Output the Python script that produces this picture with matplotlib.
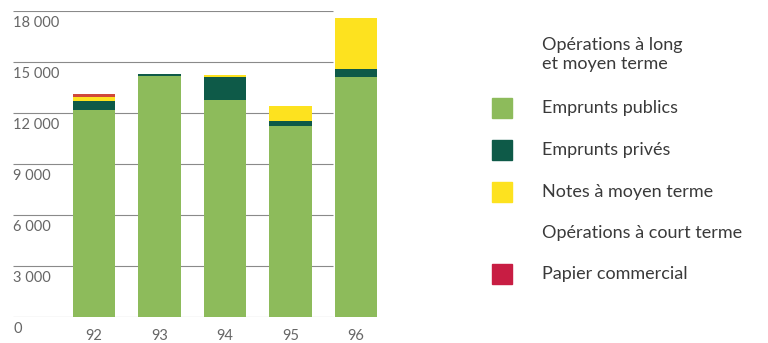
import matplotlib
matplotlib.use('Agg')
from matplotlib import pyplot as plt
from matplotlib.patches import Rectangle
import numpy as np

plt.rcParams['font.family'] = ['Lato', 'DejaVu Sans']

years = ['92', '93', '94', '95', '96']
publics = [12200, 14180, 12760, 11240, 14100]
prives = [480, 100, 1340, 310, 470]
notes = [280, 0, 120, 860, 3000]
papier = [150, 0, 0, 0, 0]

yticks = [0, 3000, 6000, 9000, 12000, 15000, 18000]
ylabels = ['0', '3 000', '6 000', '9 000', '12 000', '15 000', '18 000']

c_pub = '#8dbb5b'
c_priv = '#0e5a48'
c_notes = '#fde21f'
c_pap = '#d0483a'
c_pap_leg = '#c81d43'
txt = '#666666'

fig = plt.figure(figsize=(7.68, 3.43), dpi=100)
W, H = 768, 343
ax = fig.add_axes([13 / W, 26 / H, (382 - 13) / W, (317 - 11) / H])

x = np.arange(len(years))
w = 0.656
xmin = (13 - 94) / 65.5
xgrid_end = (333 - 94) / 65.5
ax.set_xlim(xmin, (382 - 94) / 65.5)
ax.set_ylim(0, 18000)

ax.hlines(yticks, xmin, xgrid_end, color='#8a8a8a', lw=0.8, zorder=1)

b1 = np.array(publics)
b2 = b1 + np.array(prives)
b3 = b2 + np.array(notes)
ax.bar(x, publics, w, color=c_pub, zorder=2)
ax.bar(x, prives, w, bottom=b1, color=c_priv, zorder=2)
ax.bar(x, notes, w, bottom=b2, color=c_notes, zorder=2)
ax.bar(x, papier, w, bottom=b3, color=c_pap, zorder=2)

for v, lab in zip(yticks, ylabels):
    ax.annotate(lab, (xmin, v), xytext=(0, -3.5), textcoords='offset points',
                va='top', ha='left', fontsize=10.5, color=txt, annotation_clip=False)
for xi, lab in zip(x, years):
    ax.annotate(lab, (xi, 0), xytext=(0, -14), textcoords='offset points',
                va='center', ha='center', fontsize=10.5, color=txt, annotation_clip=False)

for s in ax.spines.values():
    s.set_visible(False)
ax.set_xticks([])
ax.set_yticks([])
ax.patch.set_visible(False)

# legende
tx = 542 / W
fs = 13
tc = '#3a3a3a'
fig.text(tx, 1 - 45 / H, 'Opérations à long', fontsize=fs, color=tc, va='center')
fig.text(tx, 1 - 64 / H, 'et moyen terme', fontsize=fs, color=tc, va='center')
fig.text(tx, 1 - 233 / H, 'Opérations à court terme', fontsize=fs, color=tc, va='center')
items = [('Emprunts publics', c_pub, 108), ('Emprunts privés', c_priv, 150),
         ('Notes à moyen terme', c_notes, 192), ('Papier commercial', c_pap_leg, 274)]
for name, col, yy in items:
    fig.patches.append(Rectangle((492 / W, 1 - (yy + 10) / H), 20 / W, 20 / H,
                                 transform=fig.transFigure, color=col))
    fig.text(tx, 1 - yy / H, name, fontsize=fs, color=tc, va='center')

fig.savefig('out.png', dpi=100)
